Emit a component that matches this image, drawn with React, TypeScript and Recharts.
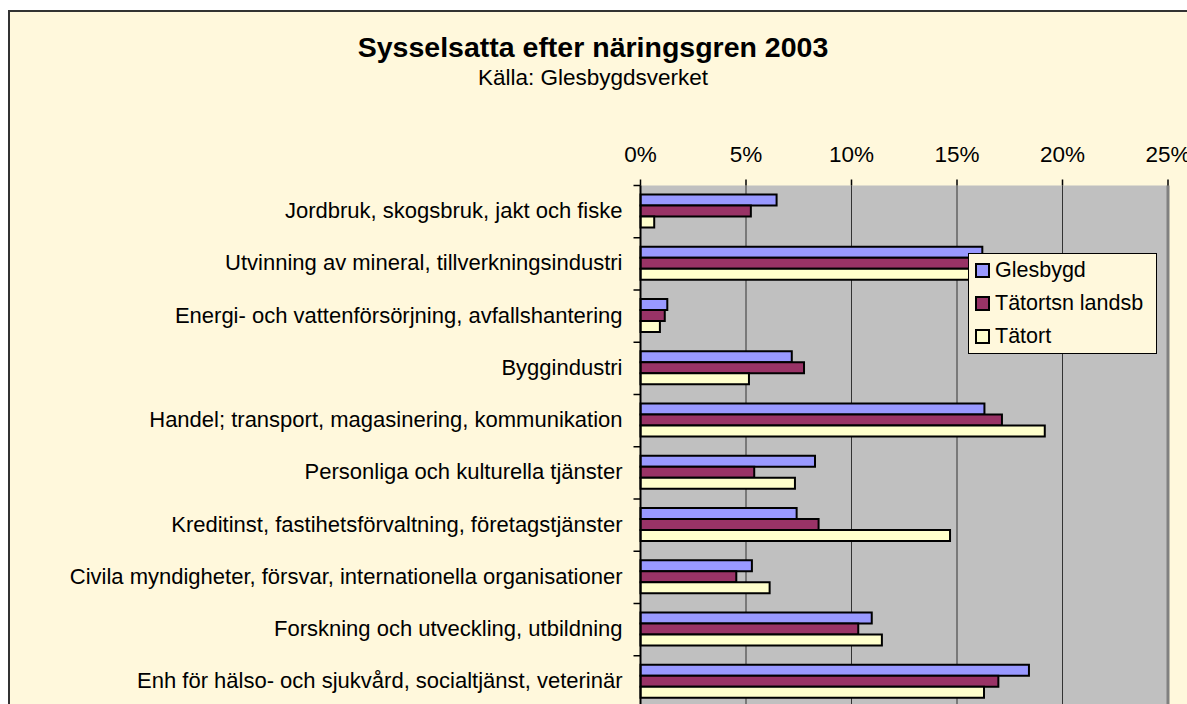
import React from 'react';
import { BarChart, Bar, XAxis, YAxis, CartesianGrid, ReferenceLine, Legend } from 'recharts';

const categories = [
  'Jordbruk, skogsbruk, jakt och fiske',
  'Utvinning av mineral, tillverkningsindustri',
  'Energi- och vattenförsörjning, avfallshantering',
  'Byggindustri',
  'Handel; transport, magasinering, kommunikation',
  'Personliga och kulturella tjänster',
  'Kreditinst, fastihetsförvaltning, företagstjänster',
  'Civila myndigheter, försvar, internationella organisationer',
  'Forskning och utveckling, utbildning',
  'Enh för hälso- och sjukvård, socialtjänst, veterinär',
];

const seriesNames = ['Glesbygd', 'Tätortsn landsb', 'Tätort'];

// andelar i procent
const glesbygd = [6.45, 16.2, 1.27, 7.17, 16.3, 8.27, 7.4, 5.28, 10.96, 18.41];
const tatortsnLandsb = [5.23, 17.0, 1.15, 7.75, 17.13, 5.39, 8.44, 4.54, 10.32, 16.96];
const tatort = [0.65, 16.0, 0.92, 5.14, 19.16, 7.32, 14.67, 6.12, 11.44, 16.28];

const xTicks = [0, 5, 10, 15, 20, 25];

const data = categories.map((name, i) => ({
  name,
  glesbygd: glesbygd[i],
  tatortsn: tatortsnLandsb[i],
  tatort: tatort[i],
}));

const FONT = '"Liberation Sans", Arial, sans-serif';
const BG = '#FFF8DC';

const CHART_W = 1200;
const CHART_H = 740;
const MARGIN = { top: 155.5, right: 32, bottom: 32, left: 0 };
const X_AXIS_H = 30;
const PLOT_H = CHART_H - MARGIN.top - MARGIN.bottom - X_AXIS_H;
const BAND = PLOT_H / categories.length;

const CategoryTick = (props: any) => {
  const { x, y, payload, index } = props;
  return (
    <g>
      <text x={x - 18} y={y} dy={6.5} textAnchor="end" fontSize={22} fill="#000" fontFamily={FONT}>
        {payload.value}
      </text>
      <line x1={x - 7} x2={x} y1={y - BAND / 2} y2={y - BAND / 2} stroke="#000" strokeWidth={1.5} />
      {index === categories.length - 1 && (
        <line x1={x - 7} x2={x} y1={y + BAND / 2} y2={y + BAND / 2} stroke="#000" strokeWidth={1.5} />
      )}
    </g>
  );
};

const LegendBox = (props: any) => {
  const items = [...(props.payload || [])].sort(
    (a: any, b: any) => seriesNames.indexOf(a.value) - seriesNames.indexOf(b.value)
  );
  return (
    <div style={{ border: '1px solid #000', background: BG, width: 187, height: 99, fontFamily: FONT }}>
      {items.map((p: any) => (
        <div key={p.value} style={{ height: 33, display: 'flex', alignItems: 'center', paddingLeft: 6 }}>
          <span style={{ width: 11, height: 11, border: '2px solid #000', background: p.color, display: 'inline-block', marginRight: 5 }} />
          <span style={{ fontSize: 21.5, color: '#000' }}>{p.value}</span>
        </div>
      ))}
    </div>
  );
};

export default function App() {
  return (
    <div style={{ position: 'fixed', left: 0, top: 0, width: 1187, height: 704, overflow: 'hidden', background: '#fff' }}>
      <div style={{ position: 'absolute', left: 8, top: 10, width: 1220, height: 740, border: '2px solid #333', background: BG }} />
      <svg style={{ position: 'absolute', left: 0, top: 0 }} width={1187} height={120}>
        <text x={593} y={57} textAnchor="middle" fontFamily={FONT} fontWeight="bold" fontSize={28.5} fill="#000">
          Sysselsatta efter näringsgren 2003
        </text>
        <text x={593} y={85} textAnchor="middle" fontFamily={FONT} fontSize={22.5} fill="#000">
          Källa: Glesbygdsverket
        </text>
      </svg>
      <div style={{ position: 'absolute', left: 0, top: 0 }}>
        <BarChart
          width={CHART_W}
          height={CHART_H}
          data={data}
          layout="vertical"
          margin={MARGIN}
          barCategoryGap="17%"
          barGap={0}
        >
          <CartesianGrid horizontal={false} vertical={true} stroke="#333" fill="#C0C0C0" fillOpacity={1} />
          <XAxis
            type="number"
            orientation="top"
            domain={[0, 25]}
            ticks={xTicks}
            height={X_AXIS_H}
            tickFormatter={(v: number) => `${v}%`}
            axisLine={false}
            tickLine={{ stroke: '#000', strokeWidth: 1.5 }}
            tickSize={6}
            tickMargin={18}
            tick={{ fontSize: 22.5, fill: '#000', fontFamily: FONT }}
            interval={0}
          />
          <YAxis
            type="category"
            dataKey="name"
            width={640.5}
            axisLine={{ stroke: '#000', strokeWidth: 2 }}
            tickLine={false}
            tickSize={0}
            tickMargin={0}
            tick={<CategoryTick />}
            interval={0}
          />
          <ReferenceLine x={25} stroke="#808080" strokeWidth={3} />
          <Legend
            layout="horizontal"
            verticalAlign="middle"
            align="center"
            wrapperStyle={{ position: 'absolute', left: 968, top: 253, width: 189, height: 101 }}
            content={<LegendBox />}
          />
          <Bar dataKey="glesbygd" name="Glesbygd" fill="#9999FF" stroke="#000" strokeWidth={2} isAnimationActive={false} />
          <Bar dataKey="tatortsn" name="Tätortsn landsb" fill="#993366" stroke="#000" strokeWidth={2} isAnimationActive={false} />
          <Bar dataKey="tatort" name="Tätort" fill="#FFFFCC" stroke="#000" strokeWidth={2} isAnimationActive={false} />
        </BarChart>
      </div>
    </div>
  );
}
